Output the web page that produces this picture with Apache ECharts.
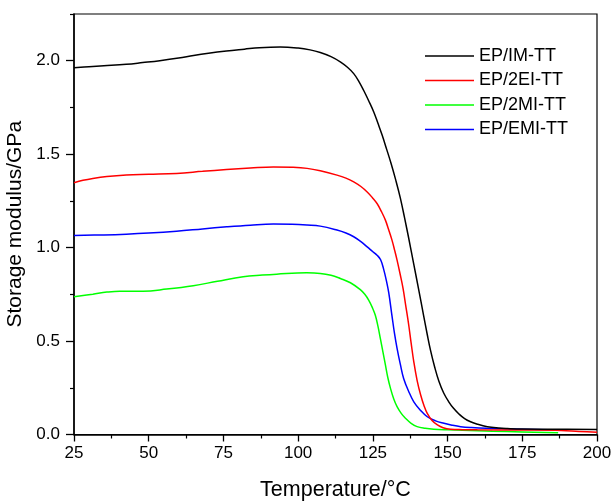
<!DOCTYPE html>
<html>
<head>
<meta charset="utf-8">
<script src="https://cdn.jsdelivr.net/npm/echarts@6/dist/echarts.min.js"></script>
<style>html,body{margin:0;padding:0;background:#fff}#c{width:614px;height:503px}</style>
</head>
<body>
<div id="c"></div>
<script>
var seriesNames = ['EP/IM-TT', 'EP/2EI-TT', 'EP/2MI-TT', 'EP/EMI-TT'];
var seriesColors = ['#000000', '#ff0000', '#00ff00', '#0000ff'];

var imTT = [[25,1.963],[30,1.968],[35,1.973],[42.5,1.981],[48,1.99],[53.7,2.0],[60,2.014],[65,2.028],[70,2.04],[76,2.052],[82,2.062],[87,2.07],[94,2.074],[100,2.068],[104,2.058],[107.4,2.044],[111,2.022],[114.1,1.994],[116.5,1.965],[118.6,1.931],[120.3,1.89],[121.9,1.842],[123.6,1.786],[125.3,1.726],[126.7,1.665],[128.1,1.602],[129.6,1.527],[131.1,1.45],[132.6,1.365],[134.2,1.265],[135.6,1.16],[137,1.05],[138.7,0.91],[140.4,0.77],[142,0.635],[143.2,0.535],[144.3,0.45],[145.7,0.36],[147.1,0.285],[148.7,0.222],[150.4,0.175],[152,0.14],[153.8,0.11],[155.7,0.085],[157.7,0.068],[160,0.055],[163.3,0.042],[167,0.035],[170,0.032],[175,0.029],[185,0.028],[200,0.027]];

var ei2TT = [[25,1.347],[28,1.36],[31.3,1.37],[36,1.38],[42.5,1.388],[50,1.392],[59.3,1.397],[68,1.408],[76,1.418],[84,1.426],[91.7,1.432],[98,1.43],[103,1.424],[107.4,1.411],[113,1.388],[116,1.372],[118.6,1.352],[121,1.327],[123.1,1.298],[124.8,1.268],[126.4,1.236],[127.8,1.195],[129.2,1.147],[130.3,1.095],[131.4,1.04],[132.3,0.985],[133.1,0.933],[134.1,0.86],[135.1,0.782],[136,0.69],[137,0.586],[137.8,0.49],[138.7,0.389],[139.8,0.29],[141,0.211],[142.1,0.155],[143.2,0.113],[144.8,0.075],[146.6,0.051],[148.5,0.036],[151,0.028],[155,0.026],[160,0.025],[175,0.024],[188,0.022],[194,0.016],[200,0.012]];

var mi2TT = [[25,0.737],[31.3,0.751],[36,0.762],[40.3,0.767],[48.1,0.767],[56,0.778],[64.9,0.796],[73,0.82],[81.6,0.844],[88,0.853],[92.8,0.858],[102.9,0.865],[107.4,0.862],[111,0.852],[114.1,0.835],[117.5,0.812],[120.8,0.775],[122.3,0.75],[123.6,0.719],[124.8,0.68],[125.8,0.639],[126.7,0.58],[127.5,0.514],[128.4,0.44],[129.2,0.372],[130,0.305],[130.9,0.247],[132,0.19],[133.1,0.149],[134.5,0.113],[135.9,0.087],[137.8,0.06],[139.8,0.042],[142.5,0.033],[145.4,0.028],[150,0.025],[155,0.023],[165,0.018],[175,0.014],[187,0.01]];

var emiTT = [[25,1.065],[35,1.068],[42.5,1.072],[50,1.078],[59.3,1.088],[68,1.1],[76.1,1.111],[84,1.12],[91.7,1.126],[98,1.125],[103,1.121],[107.4,1.115],[113,1.094],[116,1.078],[118.6,1.058],[121,1.032],[123.1,1.004],[125,0.978],[126.5,0.958],[127.6,0.935],[128.6,0.885],[129.5,0.825],[130.3,0.76],[131.4,0.635],[132.2,0.545],[133.1,0.461],[134.2,0.375],[135.3,0.3],[137,0.23],[138.7,0.175],[140.9,0.13],[143.2,0.095],[146,0.073],[148.8,0.06],[151.5,0.05],[154.4,0.042],[158,0.037],[163,0.033],[175,0.028],[188,0.024]];

var allData = [imTT, ei2TT, mi2TT, emiTT];
var yMajorTicks = [0, 0.5, 1, 1.5, 2];
var yMinorTicks = [0.25, 0.75, 1.25, 1.75, 2.25];

var FONT = 'Liberation Sans, Arial, sans-serif';
var chart = echarts.init(document.getElementById('c'));
chart.setOption({
  animation: false,
  grid: { left: 74, right: 17, top: 14, bottom: 68.5, outerBoundsMode: 'none', containLabel: false,
    show: true, borderColor: '#000', borderWidth: 1.2, backgroundColor: 'transparent' },
  legend: {
    orient: 'vertical', left: 420, top: 41,
    icon: 'rect', itemWidth: 49, itemHeight: 1.6, itemGap: 4.5,
    textStyle: { fontFamily: FONT, fontSize: 18, color: '#000', lineHeight: 20 },
    data: seriesNames.map(function (n) { return { name: n }; })
  },
  xAxis: {
    type: 'value', min: 25, max: 200, interval: 25,
    name: 'Temperature/\u00B0C', nameLocation: 'middle', nameGap: 45,
    nameTextStyle: { fontFamily: FONT, fontSize: 21.5, color: '#000' },
    axisLine: { show: true, onZero: false, lineStyle: { color: '#000', width: 1.5 } },
    axisTick: { show: true, length: 7, lineStyle: { color: '#000', width: 1.3 } },
    minorTick: { show: true, splitNumber: 2, length: 4, lineStyle: { color: '#000', width: 1.2 } },
    axisLabel: { fontFamily: FONT, fontSize: 17, color: '#000', margin: 10 },
    splitLine: { show: false }
  },
  yAxis: [{
    type: 'value', min: 0, max: 2.25, interval: 0.25,
    name: 'Storage modulus/GPa', nameLocation: 'middle', nameGap: 36,
    nameTextStyle: { fontFamily: FONT, fontSize: 21, color: '#000' },
    axisLine: { show: true, onZero: false, lineStyle: { color: '#000', width: 1.5 } },
    axisTick: { show: true, length: 4, lineStyle: { color: '#000', width: 1.2 }, customValues: yMinorTicks },
    axisLabel: { fontFamily: FONT, fontSize: 17, color: '#000', margin: 14, customValues: yMajorTicks,
      formatter: function (v) { return v.toFixed(1); } },
    splitLine: { show: false }
  }, {
    type: 'value', min: 0, max: 2.25, interval: 0.25, position: 'left', offset: 0,
    axisLine: { show: false },
    axisTick: { show: true, length: 8, lineStyle: { color: '#000', width: 1.3 }, customValues: yMajorTicks },
    axisLabel: { show: false },
    splitLine: { show: false }
  }],
  series: allData.map(function (d, i) {
    return {
      name: seriesNames[i], type: 'line', data: d, yAxisIndex: 0,
      symbol: 'none', smooth: 0.4, z: 10 - i,
      lineStyle: { color: seriesColors[i], width: 1.5 },
      itemStyle: { color: seriesColors[i] }
    };
  })
});
</script>
</body>
</html>
